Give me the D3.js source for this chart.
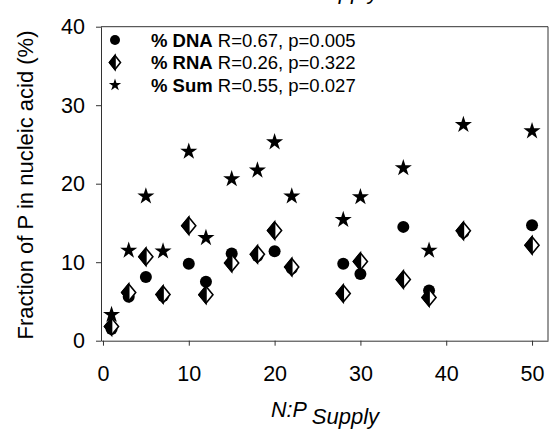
<!DOCTYPE html>
<html><head><meta charset="utf-8">
<script src="https://cdn.jsdelivr.net/npm/d3@7"></script>
<style>body{margin:0;background:#fff} svg{display:block;font-family:Arial,"Liberation Sans",sans-serif}</style>
</head><body><svg id="c" width="550" height="432"></svg>
<script>
const supplyRatio = [1,3,5,7,10,12,15,18,20,22,28,30,35,38,42,50];
const dnaPct = [1.5,5.6,8.1,5.7,9.8,7.5,11.1,10.8,11.4,9.2,9.8,8.5,14.5,6.4,13.8,14.7];
const rnaPct = [1.8,6.15,10.7,5.9,14.65,5.86,9.9,11.0,14.05,9.4,6.0,10.1,7.8,5.5,14.0,12.15];
const sumPct = [3.3,11.5,18.4,11.4,24.1,13.1,20.6,21.7,25.3,18.4,15.4,18.3,22.0,11.5,27.5,26.7];
const xTicks = [0,10,20,30,40,50];
const yTicks = [0,10,20,30,40];
const legendNames = ["% DNA","% RNA","% Sum"];
const legendStats = ["R=0.67, p=0.005","R=0.26, p=0.322","R=0.55, p=0.027"];

const svg = d3.select("#c");
const x = d3.scaleLinear().domain([-0.23, 51.86]).range([101, 548]);
const y = d3.scaleLinear().domain([0, 40]).range([340.7, 26.7]);
const axisColor = "#333";

function npLabel(g, bx, by) {
  const t = g.append("text").attr("x", bx).attr("y", by)
    .attr("font-size", 21.5).attr("font-style", "italic").attr("fill", "#000");
  t.append("tspan").text("N:P");
  t.append("tspan").attr("dx", 5).attr("dy", 7).attr("font-size", 22).text("Supply");
}
// clipped title of the panel above
npLabel(svg, 271, -8);

// axes
const gx = svg.append("g").attr("transform", `translate(0,${y(0)})`)
  .call(d3.axisBottom(x).tickValues(xTicks).tickSize(5).tickSizeOuter(0).tickPadding(20));
const gy = svg.append("g").attr("transform", `translate(${x.range()[0]},0)`)
  .call(d3.axisLeft(y).tickValues(yTicks).tickSize(5).tickSizeOuter(0).tickPadding(11));
[gx, gy].forEach(g => {
  g.selectAll("path.domain").attr("stroke", axisColor);
  g.selectAll(".tick line").attr("stroke", axisColor);
  g.selectAll(".tick text").attr("font-size", 21.5).attr("fill", "#000")
    .attr("font-family", "Arial, 'Liberation Sans', sans-serif");
});
// frame top / right
svg.append("line").attr("x1", x.range()[0]).attr("x2", x.range()[1])
  .attr("y1", y(40)).attr("y2", y(40)).attr("stroke", axisColor);
svg.append("line").attr("x1", x.range()[1]).attr("x2", x.range()[1])
  .attr("y1", y(40)).attr("y2", y(0)).attr("stroke", axisColor);

function drawCircle(g, cx, cy, r) {
  g.append("circle").attr("cx", cx).attr("cy", cy).attr("r", r).attr("fill", "#000");
}
function drawDiamond(g, cx, cy, hw, hh) {
  const d = g.append("g").attr("transform", `translate(${cx},${cy})`);
  d.append("path").attr("d", `M0,${-hh}L${hw},0L0,${hh}L${-hw},0Z`)
    .attr("fill", "#fff").attr("stroke", "#000").attr("stroke-width", 1.6);
  d.append("path").attr("d", `M0,${-hh}L${-hw},0L0,${hh}Z`)
    .attr("fill", "#000").attr("stroke", "#000").attr("stroke-width", 1.6);
}
const starSym = (r) => d3.symbol().type(d3.symbolStar).size(r * r / 0.8908130915292852)();
function drawStar(g, cx, cy, r) {
  g.append("path").attr("d", starSym(r)).attr("transform", `translate(${cx},${cy})`)
    .attr("fill", "#000");
}

const marks = svg.append("g");
supplyRatio.forEach((v, i) => drawCircle(marks, x(v), y(dnaPct[i]), 6));
supplyRatio.forEach((v, i) => drawDiamond(marks, x(v), y(rnaPct[i]), 7, 8.5));
supplyRatio.forEach((v, i) => drawStar(marks, x(v), y(sumPct[i]), 9));

// legend
const lg = svg.append("g");
const rowY = [40, 62.5, 85];
const symX = 115;
drawCircle(lg, symX, rowY[0], 5);
drawDiamond(lg, symX, rowY[1], 5.5, 7);
drawStar(lg, symX, rowY[2], 6.5);
legendNames.forEach((n, i) => {
  const t = lg.append("text").attr("x", 151).attr("y", rowY[i] + 6.5)
    .attr("font-size", 18.5).attr("fill", "#000");
  t.append("tspan").attr("font-weight", "bold").text(n);
  t.append("tspan").text(" " + legendStats[i]);
});

// axis titles
svg.append("text").attr("transform", `translate(33,185) rotate(-90)`)
  .attr("text-anchor", "middle").attr("font-size", 22).attr("fill", "#000")
  .text("Fraction of P in nucleic acid (%)");
npLabel(svg, 271, 417);
</script></body></html>
